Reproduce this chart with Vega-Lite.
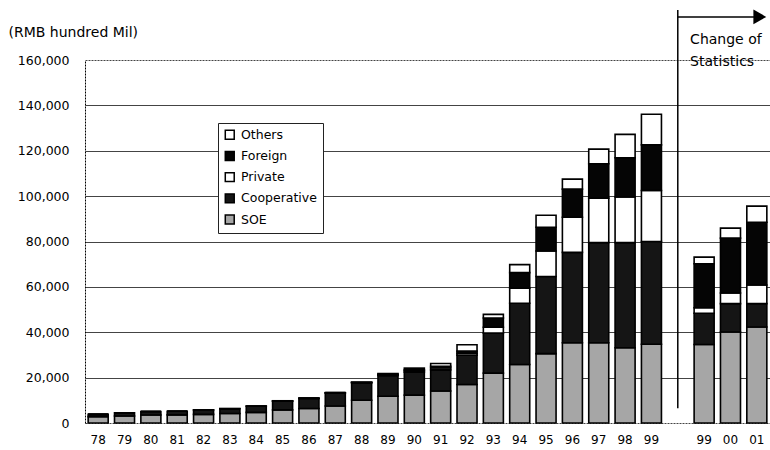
{
  "$schema": "https://vega.github.io/schema/vega-lite/v6.json",
  "width": 685,
  "height": 363,
  "autosize": {"type": "none"},
  "padding": {"left": 85, "top": 60, "right": 0, "bottom": 27},
  "background": "white",
  "config": {
    "view": {"stroke": null},
    "font": "DejaVu Sans",
    "axis": {"labelFont": "DejaVu Sans", "titleFont": "DejaVu Sans"},
    "legend": {"labelFont": "DejaVu Sans"}
  },
  "datasets": {
    "bars": [
      {"slot": "78", "SOE": 2800, "Cooperative": 1000, "Private": 0, "Foreign": 0, "Others": 0},
      {"slot": "79", "SOE": 3100, "Cooperative": 1400, "Private": 0, "Foreign": 0, "Others": 0},
      {"slot": "80", "SOE": 3500, "Cooperative": 1600, "Private": 0, "Foreign": 0, "Others": 0},
      {"slot": "81", "SOE": 3600, "Cooperative": 1600, "Private": 0, "Foreign": 0, "Others": 0},
      {"slot": "82", "SOE": 3800, "Cooperative": 1900, "Private": 0, "Foreign": 0, "Others": 100},
      {"slot": "83", "SOE": 4200, "Cooperative": 2100, "Private": 0, "Foreign": 0, "Others": 100},
      {"slot": "84", "SOE": 4700, "Cooperative": 2700, "Private": 0, "Foreign": 0, "Others": 100},
      {"slot": "85", "SOE": 5800, "Cooperative": 3800, "Private": 100, "Foreign": 100, "Others": 0},
      {"slot": "86", "SOE": 6400, "Cooperative": 4400, "Private": 100, "Foreign": 100, "Others": 0},
      {"slot": "87", "SOE": 7500, "Cooperative": 5700, "Private": 100, "Foreign": 100, "Others": 0},
      {"slot": "88", "SOE": 10000, "Cooperative": 7700, "Private": 100, "Foreign": 150, "Others": 50},
      {"slot": "89", "SOE": 11800, "Cooperative": 9100, "Private": 300, "Foreign": 300, "Others": 300},
      {"slot": "90", "SOE": 12300, "Cooperative": 10100, "Private": 600, "Foreign": 500, "Others": 700},
      {"slot": "91", "SOE": 14100, "Cooperative": 9300, "Private": 900, "Foreign": 700, "Others": 1200},
      {"slot": "92", "SOE": 17000, "Cooperative": 12900, "Private": 900, "Foreign": 900, "Others": 2800},
      {"slot": "93", "SOE": 22000, "Cooperative": 17600, "Private": 2600, "Foreign": 4100, "Others": 1600},
      {"slot": "94", "SOE": 25800, "Cooperative": 27000, "Private": 6600, "Foreign": 6900, "Others": 3500},
      {"slot": "95", "SOE": 30600, "Cooperative": 34000, "Private": 11200, "Foreign": 10500, "Others": 5300},
      {"slot": "96", "SOE": 35400, "Cooperative": 39800, "Private": 15500, "Foreign": 12400, "Others": 4400},
      {"slot": "97", "SOE": 35400, "Cooperative": 44100, "Private": 19600, "Foreign": 15200, "Others": 6400},
      {"slot": "98", "SOE": 33200, "Cooperative": 46300, "Private": 20100, "Foreign": 17300, "Others": 10300},
      {"slot": "99", "SOE": 34700, "Cooperative": 45300, "Private": 22500, "Foreign": 20100, "Others": 13500},
      {"slot": "99b", "SOE": 34600, "Cooperative": 13800, "Private": 2400, "Foreign": 19400, "Others": 2900},
      {"slot": "00", "SOE": 40100, "Cooperative": 12500, "Private": 4700, "Foreign": 24200, "Others": 4400},
      {"slot": "01", "SOE": 42300, "Cooperative": 10300, "Private": 8200, "Foreign": 27700, "Others": 7100}
    ],
    "divider": [{"slot": "gap", "lo": 6500, "hi": 182000}],
    "arrow": [{"from": "gap", "to": "01", "level": 179000}],
    "note": [{"slot": "99b", "level": 168900, "text": ["Change of", "Statistics"]}]
  },
  "layer": [
    {
      "data": {"name": "bars"},
      "transform": [
        {"fold": ["SOE", "Cooperative", "Private", "Foreign", "Others"], "as": ["type", "value"]},
        {"calculate": "indexof(['SOE','Cooperative','Private','Foreign','Others'], datum.type)", "as": "ord"}
      ],
      "mark": {"type": "bar", "stroke": "black", "strokeWidth": 1.6},
      "encoding": {
        "x": {
          "field": "slot",
          "type": "nominal",
          "sort": null,
          "scale": {
            "domain": ["78","79","80","81","82","83","84","85","86","87","88","89","90","91","92","93","94","95","96","97","98","99","gap","99b","00","01"],
            "paddingInner": 0.24,
            "paddingOuter": 0.12
          },
          "axis": {
            "title": null,
            "labelAngle": 0,
            "labelExpr": "datum.value == 'gap' ? '' : (datum.value == '99b' ? '99' : datum.value)",
            "labelFontSize": 12,
            "labelColor": "black",
            "labelPadding": 11,
            "ticks": false,
            "domain": false
          }
        },
        "y": {
          "field": "value",
          "type": "quantitative",
          "stack": "zero",
          "scale": {"domain": [0, 160000], "nice": false},
          "axis": {
            "values": [0, 20000, 40000, 60000, 80000, 100000, 120000, 140000, 160000],
            "format": ",.0f",
            "title": "(RMB hundred Mil)",
            "titleAngle": 0,
            "titleAlign": "left",
            "titleBaseline": "middle",
            "titleX": -77,
            "titleY": -28,
            "titleFontSize": 14,
            "titleFontWeight": "normal",
            "titleColor": "black",
            "labelFontSize": 12.5,
            "labelColor": "black",
            "labelPadding": 16,
            "ticks": false,
            "domainColor": "black",
            "domainDash": [2, 1],
            "grid": true,
            "gridColor": "#444",
            "gridWidth": 1,
            "gridDash": {"condition": {"test": "datum.value == 160000 || datum.value == 0", "value": [2, 1]}, "value": []}
          }
        },
        "color": {
          "field": "type",
          "type": "nominal",
          "scale": {
            "domain": ["Others", "Foreign", "Private", "Cooperative", "SOE"],
            "range": ["#ffffff", "#050505", "#ffffff", "#151515", "#a6a6a6"]
          },
          "legend": {
            "title": null,
            "orient": "none",
            "legendX": 133,
            "legendY": 63,
            "direction": "vertical",
            "fillColor": "white",
            "strokeColor": "#222",
            "padding": 5.5,
            "symbolType": "square",
            "symbolSize": 80,
            "symbolStrokeColor": "black",
            "symbolStrokeWidth": 1.5,
            "labelFontSize": 12.5,
            "labelColor": "black",
            "rowPadding": 5.2,
            "labelOffset": 5
          }
        },
        "order": {"field": "ord", "type": "quantitative"}
      }
    },
    {
      "data": {"name": "divider"},
      "mark": {"type": "rule", "color": "black", "strokeWidth": 1.5},
      "encoding": {
        "x": {"field": "slot", "type": "nominal"},
        "y": {"field": "lo", "type": "quantitative"},
        "y2": {"field": "hi"}
      }
    },
    {
      "data": {"name": "arrow"},
      "mark": {"type": "rule", "color": "black", "strokeWidth": 1.5},
      "encoding": {
        "x": {"field": "from", "type": "nominal"},
        "x2": {"field": "to"},
        "y": {"field": "level", "type": "quantitative"}
      }
    },
    {
      "data": {"name": "arrow"},
      "mark": {"type": "point", "shape": "triangle-right", "filled": true, "color": "black", "size": 220, "opacity": 1, "xOffset": 3},
      "encoding": {
        "x": {"field": "to", "type": "nominal"},
        "y": {"field": "level", "type": "quantitative"}
      }
    },
    {
      "data": {"name": "note"},
      "mark": {"type": "text", "align": "left", "baseline": "middle", "fontSize": 14, "lineHeight": 22, "color": "black", "dx": -4},
      "encoding": {
        "x": {"field": "slot", "type": "nominal", "bandPosition": 0},
        "y": {"field": "level", "type": "quantitative"},
        "text": {"field": "text"}
      }
    }
  ]
}
